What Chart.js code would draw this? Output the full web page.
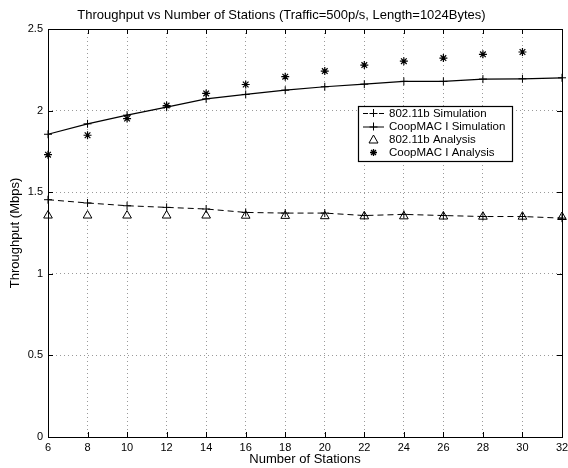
<!DOCTYPE html>
<html>
<head>
<meta charset="utf-8">
<script src="https://cdn.jsdelivr.net/npm/chart.js@4/dist/chart.umd.min.js"></script>
<style>
  html, body { margin: 0; padding: 0; background: #fff; }
</style>
</head>
<body>
<canvas id="throughputChart" width="568" height="468"></canvas>
<script>
// values
const stations = [6, 8, 10, 12, 14, 16, 18, 20, 22, 24, 26, 28, 30, 32];
const dot11Sim = [1.454, 1.434, 1.417, 1.407, 1.397, 1.376, 1.372, 1.372, 1.357, 1.364, 1.357, 1.351, 1.351, 1.341];
const coopSim = [1.855, 1.919, 1.972, 2.021, 2.072, 2.099, 2.125, 2.146, 2.162, 2.179, 2.179, 2.193, 2.195, 2.201];
const dot11Ana = [1.357, 1.357, 1.357, 1.357, 1.357, 1.356, 1.355, 1.353, 1.352, 1.352, 1.351, 1.350, 1.350, 1.348];
const coopAna = [1.730, 1.849, 1.951, 2.031, 2.105, 2.160, 2.208, 2.242, 2.279, 2.303, 2.322, 2.345, 2.359, null];
const xTicks = [6, 8, 10, 12, 14, 16, 18, 20, 22, 24, 26, 28, 30, 32];
const yTicks = [0, 0.5, 1, 1.5, 2, 2.5];
const seriesNames = ['802.11b Simulation', 'CoopMAC I Simulation', '802.11b Analysis', 'CoopMAC I Analysis'];

const FONT = '"Liberation Sans", Arial, Helvetica, sans-serif';

function toPoints(values) {
    return stations.map((s, i) => ({ x: s, y: values[i] }));
}

// box, inward ticks and in-plot legend like the original figure
const framePlugin = {
    id: 'frame',
    afterDraw(chart) {
        const { ctx, chartArea: a, scales } = chart;
        ctx.save();
        ctx.strokeStyle = '#000';
        ctx.lineWidth = 1;
        ctx.setLineDash([]);
        ctx.strokeRect(a.left + 0.5, a.top + 0.5, a.right - a.left, a.bottom - a.top);
        ctx.beginPath();
        xTicks.forEach(v => {
            const px = Math.round(scales.x.getPixelForValue(v)) + 0.5;
            ctx.moveTo(px, a.bottom); ctx.lineTo(px, a.bottom - 5);
            ctx.moveTo(px, a.top); ctx.lineTo(px, a.top + 5);
        });
        yTicks.forEach(v => {
            const py = Math.round(scales.y.getPixelForValue(v)) + 0.5;
            ctx.moveTo(a.left, py); ctx.lineTo(a.left + 5, py);
            ctx.moveTo(a.right, py); ctx.lineTo(a.right - 5, py);
        });
        ctx.stroke();

        // legend
        const bx = 358, by = 106, bw = 154, bh = 55;
        ctx.fillStyle = '#fff';
        ctx.fillRect(bx, by, bw, bh);
        ctx.lineWidth = 1.2;
        ctx.strokeRect(bx + 0.5, by + 0.5, bw, bh);
        ctx.lineWidth = 1;
        const rows = [113, 126.5, 139.5, 152.5];
        const lx1 = 363, lx2 = 384, mx = 373.5;
        ctx.font = '11.5px ' + FONT;
        ctx.fillStyle = '#000';
        ctx.textBaseline = 'middle';
        rows.forEach((ry, i) => {
            ctx.beginPath();
            if (i === 0) ctx.setLineDash([5, 3]);
            if (i < 2) {
                ctx.moveTo(lx1, ry + 0.5); ctx.lineTo(lx2, ry + 0.5);
                ctx.stroke();
                ctx.setLineDash([]);
                ctx.beginPath();
                ctx.moveTo(mx, ry - 4); ctx.lineTo(mx, ry + 4);
                ctx.moveTo(mx - 4, ry + 0.5); ctx.lineTo(mx + 4, ry + 0.5);
                ctx.stroke();
            } else if (i === 2) {
                ctx.moveTo(mx, ry - 4.5); ctx.lineTo(mx + 4.5, ry + 3.5); ctx.lineTo(mx - 4.5, ry + 3.5);
                ctx.closePath();
                ctx.stroke();
            } else {
                ctx.lineWidth = 1.3;
                for (let k = 0; k < 4; k++) {
                    const ang = k * Math.PI / 4;
                    ctx.moveTo(mx - 3.5 * Math.cos(ang), ry - 3.5 * Math.sin(ang));
                    ctx.lineTo(mx + 3.5 * Math.cos(ang), ry + 3.5 * Math.sin(ang));
                }
                ctx.stroke();
                ctx.lineWidth = 1;
            }
            ctx.fillText(seriesNames[i], 389, ry + 0.5);
        });
        ctx.restore();
    }
};

const ctx = document.getElementById('throughputChart').getContext('2d');
new Chart(ctx, {
    type: 'scatter',
    data: {
        datasets: [{
            label: seriesNames[0],
            data: toPoints(dot11Sim),
            showLine: true,
            borderColor: '#000',
            backgroundColor: '#000',
            borderWidth: 1,
            borderDash: [6, 4],
            pointStyle: 'cross',
            pointRadius: 4,
            pointBorderWidth: 1,
            clip: false
        }, {
            label: seriesNames[1],
            data: toPoints(coopSim),
            showLine: true,
            borderColor: '#000',
            backgroundColor: '#000',
            borderWidth: 1.2,
            pointStyle: 'cross',
            pointRadius: 4,
            pointBorderWidth: 1,
            clip: false
        }, {
            label: seriesNames[2],
            data: toPoints(dot11Ana),
            showLine: false,
            borderColor: '#000',
            backgroundColor: '#fff',
            pointStyle: 'triangle',
            pointRadius: 5,
            pointBorderWidth: 1,
            clip: false
        }, {
            label: seriesNames[3],
            data: toPoints(coopAna),
            showLine: false,
            borderColor: '#000',
            backgroundColor: '#000',
            pointStyle: 'star',
            pointRadius: 4,
            pointBorderWidth: 1.2,
            clip: false
        }]
    },
    options: {
        responsive: false,
        animation: false,
        devicePixelRatio: 1,
        layout: { padding: { left: 0, right: 5, top: 0, bottom: 0 } },
        plugins: {
            legend: { display: false },
            tooltip: { enabled: false },
            title: {
                display: true,
                text: 'Throughput vs Number of Stations (Traffic=500p/s, Length=1024Bytes)',
                color: '#000',
                font: { family: FONT, size: 13, weight: 'normal' },
                padding: { top: 8, bottom: 5.4 }
            }
        },
        scales: {
            x: {
                type: 'linear',
                min: 6,
                max: 32,
                afterBuildTicks(scale) {
                    scale.ticks = xTicks.map(v => ({ value: v }));
                },
                afterFit(scale) {
                    scale.height = 31;
                    scale.paddingLeft = 0;
                    scale.paddingRight = 0;
                },
                ticks: {
                    color: '#000',
                    font: { family: FONT, size: 11 },
                    padding: 4,
                    autoSkip: false,
                    maxRotation: 0,
                    callback: v => String(v)
                },
                grid: { color: '#9a9a9a', lineWidth: 1, drawTicks: false },
                border: { display: false, dash: [1, 3] },
                title: {
                    display: true,
                    text: 'Number of Stations',
                    color: '#000',
                    font: { family: FONT, size: 13 },
                    padding: { top: 0, bottom: 1 }
                }
            },
            y: {
                min: 0,
                max: 2.5,
                afterBuildTicks(scale) {
                    scale.ticks = yTicks.map(v => ({ value: v }));
                },
                afterFit(scale) {
                    scale.width = 48;
                },
                ticks: {
                    color: '#000',
                    font: { family: FONT, size: 11 },
                    padding: 5,
                    callback: v => String(v)
                },
                grid: { color: '#9a9a9a', lineWidth: 1, drawTicks: false },
                border: { display: false, dash: [1, 3] },
                title: {
                    display: true,
                    text: 'Throughput (Mbps)',
                    color: '#000',
                    font: { family: FONT, size: 13 },
                    padding: { top: 8, bottom: 0 }
                }
            }
        }
    },
    plugins: [framePlugin]
});
</script>
</body>
</html>
